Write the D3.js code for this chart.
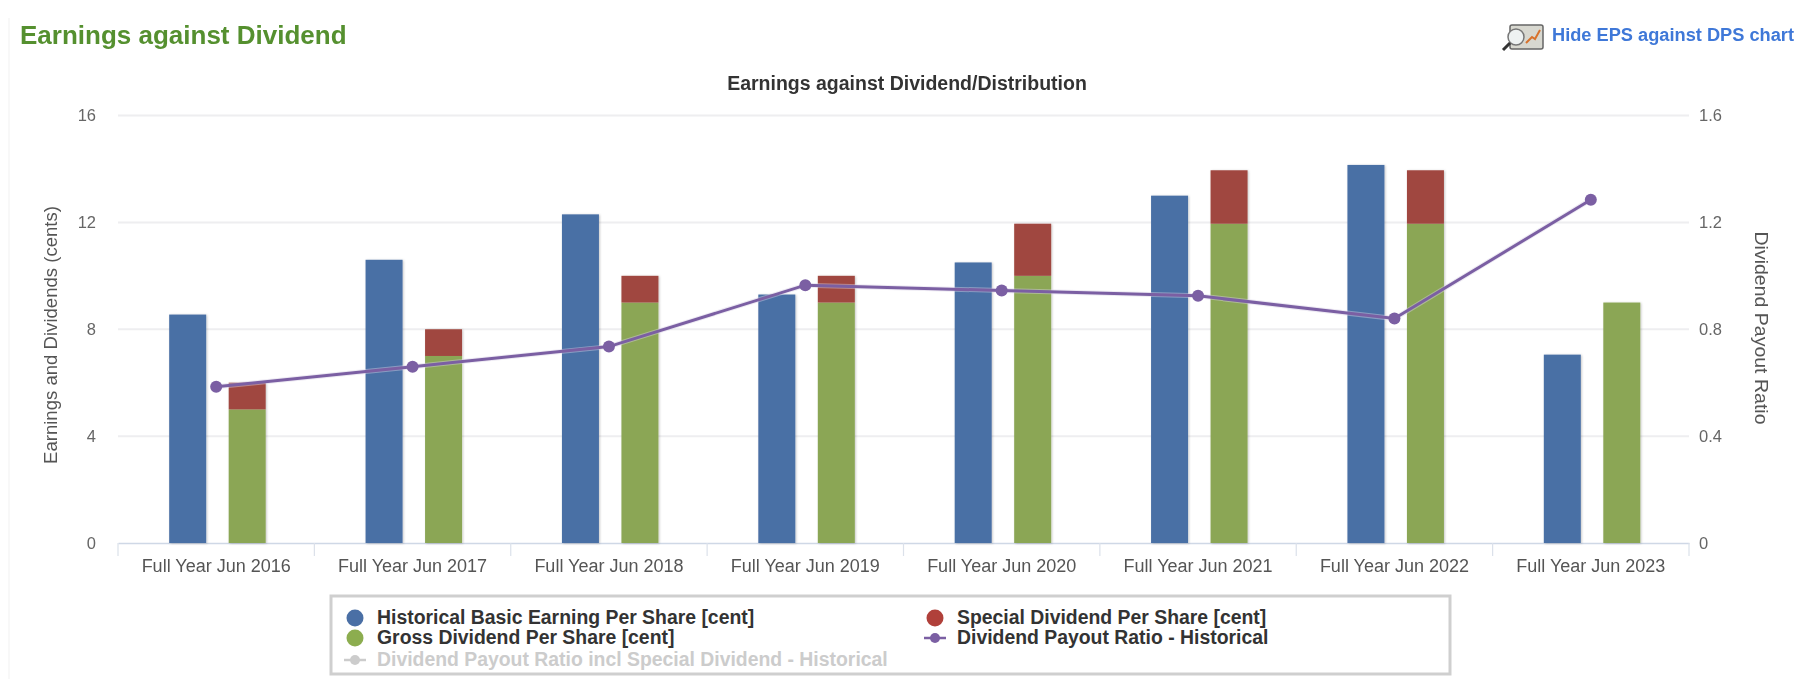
<!DOCTYPE html>
<html><head><meta charset="utf-8">
<script src="https://cdn.jsdelivr.net/npm/d3@7"></script>
<style>
html,body{margin:0;padding:0;background:#fff}
svg{display:block;font-family:"Liberation Sans",Arial,sans-serif;filter:blur(.6px)}
</style></head><body><svg id="c" width="1811" height="679"></svg>
<script>
const categories=["Full Year Jun 2016","Full Year Jun 2017","Full Year Jun 2018","Full Year Jun 2019","Full Year Jun 2020","Full Year Jun 2021","Full Year Jun 2022","Full Year Jun 2023"];
const basicEps=[8.55,10.6,12.3,9.3,10.5,13,14.15,7.05];
const grossDiv=[5,7,9,9,10,11.95,11.95,9];
const specialDiv=[1,1,1,1,1.95,2,2,0];
const payout=[0.585,0.66,0.735,0.965,0.945,0.925,0.84,1.285];
const leftTicks=[0,4,8,12,16];
const rightTicks=[0,0.4,0.8,1.2,1.6];
const colors={blue:"#4a6fa5",red:"#a0473f",green:"#8ba655",purple:"#7b5fa3"};

const svg=d3.select("#c");
const L=118,R=1689,T=115.5,B=543;
const x=d3.scaleBand().domain(categories).range([L,R]);
const yL=d3.scaleLinear().domain([0,16]).range([B,T]);
const yR=d3.scaleLinear().domain([0,1.6]).range([B,T]);
const barW=37, off=x.bandwidth()/2;
const defs=svg.append("defs");
const sh=defs.append("filter").attr("id","sh").attr("x","-20%").attr("width","140%");
sh.append("feDropShadow").attr("dx",1).attr("dy",0.5).attr("stdDeviation",1.2).attr("flood-color","#000").attr("flood-opacity",.22);

svg.append("line").attr("x1",9).attr("x2",9).attr("y1",18).attr("y2",679).attr("stroke","#f6f6f6").attr("stroke-width",1.5);
svg.append("text").attr("x",20).attr("y",44).attr("font-size",26).attr("font-weight",700).attr("fill","#55902f").text("Earnings against Dividend");
svg.append("text").attr("x",1794).attr("y",41).attr("text-anchor","end").attr("font-size",18).attr("font-weight",700).attr("fill","#3f78d8")
  .attr("textLength",242).attr("lengthAdjust","spacingAndGlyphs").text("Hide EPS against DPS chart");
const ic=svg.append("g").attr("transform","translate(1502,24)");
ic.append("rect").attr("x",8).attr("y",1).attr("width",33).attr("height",24).attr("rx",2).attr("fill","#d8d8d0").attr("stroke","#666").attr("stroke-width",1.5);
ic.append("path").attr("d","M24 19L30 13L33 15L38 6").attr("fill","none").attr("stroke","#d8722c").attr("stroke-width",2);
ic.append("circle").attr("cx",14).attr("cy",13).attr("r",8).attr("fill","#eef2f2").attr("stroke","#777").attr("stroke-width",1.5);
ic.append("line").attr("x1",8).attr("y1",19).attr("x2",1).attr("y2",26).attr("stroke","#333").attr("stroke-width",3);

svg.append("text").attr("x",907).attr("y",90).attr("text-anchor","middle").attr("font-size",19.5).attr("font-weight",700).attr("fill","#333").text("Earnings against Dividend/Distribution");

svg.append("g").selectAll("line").data(leftTicks.slice(1)).join("line")
 .attr("x1",L).attr("x2",R).attr("y1",d=>yL(d)).attr("y2",d=>yL(d)).attr("stroke","#eeeef0").attr("stroke-width",2);

const ax=svg.append("g").attr("transform",`translate(0,${B})`).call(d3.axisBottom(x).tickSize(0));
ax.select(".domain").attr("stroke","#cfd8e6").attr("stroke-width",1.5);
ax.selectAll("text").attr("font-size",18).attr("fill","#555").attr("y",16).attr("font-family","inherit");
svg.append("g").selectAll("line").data(d3.range(categories.length+1)).join("line")
 .attr("x1",i=>L+i*x.step()).attr("x2",i=>L+i*x.step()).attr("y1",B).attr("y2",B+13).attr("stroke","#dbe1ea").attr("stroke-width",1.2);
const aL=svg.append("g").attr("transform",`translate(${L},0)`).call(d3.axisLeft(yL).tickValues(leftTicks).tickSize(0).tickPadding(22));
aL.select(".domain").remove();
aL.selectAll("text").attr("font-size",16.5).attr("fill","#666").attr("font-family","inherit");
const aR=svg.append("g").attr("transform",`translate(${R},0)`).call(d3.axisRight(yR).tickValues(rightTicks).tickSize(0).tickPadding(10).tickFormat(d=>d===0?"0":d3.format(".1f")(d)));
aR.select(".domain").remove();
aR.selectAll("text").attr("font-size",16.5).attr("fill","#666").attr("font-family","inherit");
svg.append("text").attr("transform","translate(57,335) rotate(-90)").attr("text-anchor","middle").attr("font-size",18).attr("fill","#555")
  .attr("textLength",258).attr("lengthAdjust","spacingAndGlyphs").text("Earnings and Dividends (cents)");
svg.append("text").attr("transform","translate(1755,328) rotate(90)").attr("text-anchor","middle").attr("font-size",18).attr("fill","#555")
  .attr("textLength",193).attr("lengthAdjust","spacingAndGlyphs").text("Dividend Payout Ratio");

const bars=svg.append("g").attr("filter","url(#sh)");
bars.selectAll(".eps").data(categories).join("rect").attr("class","eps")
 .attr("x",d=>x(d)+off-47).attr("width",barW).attr("y",(d,i)=>yL(basicEps[i])).attr("height",(d,i)=>B-yL(basicEps[i])).attr("fill",colors.blue);
bars.selectAll(".gross").data(categories).join("rect").attr("class","gross")
 .attr("x",d=>x(d)+off+12.5).attr("width",barW).attr("y",(d,i)=>yL(grossDiv[i])).attr("height",(d,i)=>B-yL(grossDiv[i])).attr("fill",colors.green);
bars.selectAll(".special").data(categories).join("rect").attr("class","special")
 .attr("x",d=>x(d)+off+12.5).attr("width",barW).attr("y",(d,i)=>yL(grossDiv[i]+specialDiv[i])).attr("height",(d,i)=>yL(grossDiv[i])-yL(grossDiv[i]+specialDiv[i])).attr("fill",colors.red);

const line=d3.line().x((d,i)=>x(categories[i])+off).y(d=>yR(d));
svg.append("path").datum(payout).attr("d",line).attr("fill","none").attr("stroke","#d8d0e4").attr("stroke-opacity",.45).attr("stroke-width",5);
svg.append("path").datum(payout).attr("d",line).attr("fill","none").attr("stroke",colors.purple).attr("stroke-width",3);
svg.selectAll(".pt").data(payout).join("circle").attr("class","pt").attr("cx",(d,i)=>x(categories[i])+off).attr("cy",d=>yR(d)).attr("r",6).attr("fill",colors.purple);

const lg=svg.append("g");
lg.append("rect").attr("x",331).attr("y",596).attr("width",1119).attr("height",78).attr("fill","#fff").attr("stroke","#cfcfcf").attr("stroke-width",3);
const legendItems=[
 {t:"Historical Basic Earning Per Share [cent]",c:colors.blue,x:355,y:618,k:"dot",tc:"#333"},
 {t:"Special Dividend Per Share [cent]",c:"#b0403a",x:935,y:618,k:"dot",tc:"#333"},
 {t:"Gross Dividend Per Share [cent]",c:"#8cad4f",x:355,y:638,k:"dot",tc:"#333"},
 {t:"Dividend Payout Ratio - Historical",c:colors.purple,x:935,y:638,k:"line",tc:"#333"},
 {t:"Dividend Payout Ratio incl Special Dividend - Historical",c:"#ccc",x:355,y:660,k:"line",tc:"#ccc"}];
legendItems.forEach(d=>{
 if(d.k==="dot") lg.append("circle").attr("cx",d.x).attr("cy",d.y).attr("r",8.5).attr("fill",d.c);
 else{
  lg.append("line").attr("x1",d.x-11).attr("x2",d.x+11).attr("y1",d.y).attr("y2",d.y).attr("stroke",d.c).attr("stroke-width",2.5);
  lg.append("circle").attr("cx",d.x).attr("cy",d.y).attr("r",5).attr("fill",d.c);
 }
 lg.append("text").attr("x",d.x+22).attr("y",d.y+6).attr("font-size",19.4).attr("font-weight",700).attr("fill",d.tc).text(d.t);
});
</script></body></html>
